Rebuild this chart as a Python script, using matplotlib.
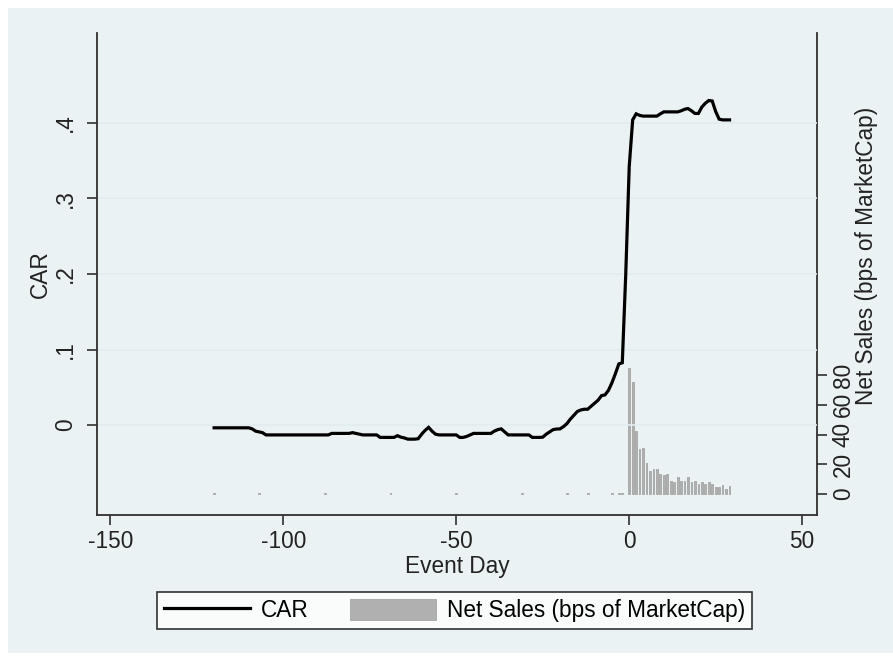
import numpy as np
import matplotlib
matplotlib.use("Agg")
import matplotlib.pyplot as plt
from matplotlib.patches import Rectangle

plt.rcParams["font.family"] = ["Liberation Sans", "DejaVu Sans"]

# cumulative abnormal return, one value per event day (-120 .. 29)
event_day = list(range(-120, 30))
car = (
    [-0.0036] * 11
    + [-0.005, -0.008, -0.009, -0.010, -0.013]
    + [-0.013] * 18
    + [-0.011] * 6
    + [-0.010, -0.011, -0.012]
    + [-0.013] * 5
    + [-0.0163] * 5
    + [-0.014, -0.016, -0.017, -0.0186, -0.0186, -0.0186, -0.018]
    + [-0.012, -0.007, -0.003, -0.008, -0.012]
    + [-0.013] * 6
    + [-0.0163, -0.0163, -0.015, -0.013]
    + [-0.011] * 6
    + [-0.008, -0.006, -0.005, -0.009, -0.013]
    + [-0.013] * 6
    + [-0.0163] * 3
    + [-0.016, -0.012, -0.009, -0.006, -0.0052, -0.005, -0.002, 0.002,
       0.008, 0.013, 0.018, 0.020, 0.021, 0.021, 0.025, 0.029, 0.033,
       0.039, 0.040, 0.046, 0.056, 0.068, 0.081, 0.0825, 0.20]
    + [0.342, 0.404, 0.412, 0.410, 0.409, 0.409, 0.409, 0.409, 0.409,
       0.412, 0.4146, 0.4146, 0.4146, 0.4146, 0.4146, 0.416, 0.418, 0.419,
       0.416, 0.4125, 0.4125, 0.421, 0.426, 0.4296, 0.429, 0.415, 0.405,
       0.404, 0.404, 0.404]
)

# net sales in bps of market cap
sales_day = [-120, -107, -88, -69, -50, -31, -18, -12, -5, -3, -2] + list(range(0, 30))
net_sales = (
    [0.5] * 11
    + [85, 75, 42.6, 30, 30.7, 20.6, 15.5, 16.6, 16.6, 13.2,
       12.5, 13.4, 8.9, 8.1, 11.2, 8.9, 8.9, 11.2, 7.8, 8.9,
       6.7, 8.1, 6.7, 7.8, 6.5, 4.9, 4.9, 5.8, 3.6, 5.6]
)

car_ticks = [0, 0.1, 0.2, 0.3, 0.4]
car_labels = ["0", ".1", ".2", ".3", ".4"]
sales_ticks = [0, 20, 40, 60, 80]
x_ticks = [-150, -100, -50, 0, 50]

W, H = 893, 657
fig = plt.figure(figsize=(W / 100, H / 100), dpi=100, facecolor="white")
bg = "#eaf2f3"
fig.patches.append(Rectangle((8 / W, 4 / H), 1 - 8 / W, 1 - 12 / H,
                             transform=fig.transFigure, facecolor=bg,
                             edgecolor="none", zorder=-10))

left, right, top, bottom = 96.5, 816.7, 33, 515
ax = fig.add_axes([left / W, 1 - bottom / H, (right - left) / W, (bottom - top) / H])
ax2 = ax.twinx()
ax.set_zorder(ax2.get_zorder() + 1)
ax.patch.set_visible(False)
ax2.patch.set_facecolor("white")

fs = 16.3
txt = "#222222"
axis_col = "#303030"

# bars on the right axis
ax2.bar(sales_day, net_sales, width=0.5, color="#b0b0b0", edgecolor="#a4a4a4",
        linewidth=0.6, label="Net Sales (bps of MarketCap)")
ax2.set_ylim(-14.1, 310)
ax2.set_yticks(sales_ticks)
ax2.set_yticklabels([str(t) for t in sales_ticks], rotation=90, va="center",
                    fontsize=fs, color=txt)

# CAR line on the left axis
ax.plot(event_day, car, color="black", linewidth=2.3, label="CAR",
        solid_joinstyle="miter")
ax.set_xlim(-154, 54.2)
ax.set_ylim(-0.119, 0.519)
ax.set_yticks(car_ticks)
ax.set_yticklabels(car_labels, rotation=90, va="center", fontsize=fs, color=txt)
ax.set_xticks(x_ticks)
ax.set_xticklabels([str(t) for t in x_ticks], fontsize=fs, color=txt)
ax.grid(axis="y", color="#e2edf0", linewidth=1.2)
ax.grid(axis="x", visible=False)
ax.set_axisbelow(True)

for a in (ax, ax2):
    a.spines["top"].set_visible(False)
    for s in ("left", "right", "bottom"):
        a.spines[s].set_color(axis_col)
        a.spines[s].set_linewidth(1.3)
ax.spines["right"].set_visible(False)
ax2.spines["left"].set_visible(False)
ax2.spines["bottom"].set_visible(False)

ax.tick_params(axis="y", length=7, width=1.2, color=axis_col, pad=7)
ax.tick_params(axis="x", length=7, width=1.2, color=axis_col, pad=4)
ax2.tick_params(axis="y", length=7.5, width=1.2, color=axis_col, pad=3.5)

# axis titles
fig.text(40 / W, 1 - 274 / H, "CAR", rotation=90, ha="center", va="center",
         fontsize=fs, color=txt)
fig.text(866 / W, 1 - 256 / H, "Net Sales (bps of MarketCap)", rotation=90,
         ha="center", va="center", fontsize=fs, color=txt)
fig.text(457 / W, 1 - 566 / H, "Event Day", ha="center", va="center",
         fontsize=fs, color=txt)

# legend under the plot
h1, l1 = ax.get_legend_handles_labels()
h2, l2 = ax2.get_legend_handles_labels()
leg = fig.legend(h1 + h2, l1 + l2, loc="center", ncol=2,
                 bbox_to_anchor=(454.5 / W, 1 - 610.5 / H), fontsize=fs,
                 frameon=True, fancybox=False, edgecolor="black",
                 handlelength=3.8, handleheight=1.1, handletextpad=0.5,
                 columnspacing=1.8, borderpad=0.3)
leg.get_frame().set_linewidth(1.2)
leg.get_frame().set_facecolor("white")

fig.savefig("out.png", dpi=100, facecolor="white")
